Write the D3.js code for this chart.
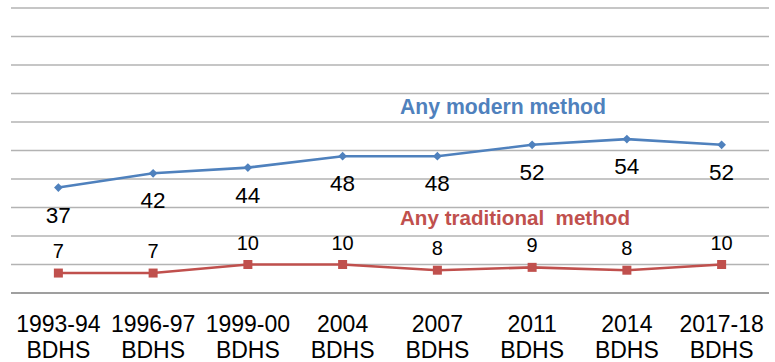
<!DOCTYPE html>
<html>
<head>
<meta charset="utf-8">
<script src="https://cdn.jsdelivr.net/npm/d3@7"></script>
<style>
  html, body { margin: 0; padding: 0; background: #fff; }
  svg { display: block; font-family: "Liberation Sans", Arial, sans-serif; }
</style>
</head>
<body>
<svg id="chart" width="775" height="362"></svg>
<script>
// Survey rounds (two-line axis labels)
const surveys = ["1993-94", "1996-97", "1999-00", "2004", "2007", "2011", "2014", "2017-18"];
const surveySuffix = "BDHS";
// Contraceptive use, percent
const modernValues = [37, 42, 44, 48, 48, 52, 54, 52];
const traditionalValues = [7, 7, 10, 10, 8, 9, 8, 10];
const seriesNames = ["Any modern method", "Any traditional method"];
const gridTicks = [0, 10, 20, 30, 40, 50, 60, 70, 80, 90, 100];

(function draw() {
  const svg = d3.select("#chart");
  const plotLeft = 11, plotRight = 769, plotTop = 8, plotBottom = 293;

  const x = d3.scaleBand().domain(surveys).range([plotLeft, plotRight]);
  const y = d3.scaleLinear().domain([0, 100]).range([plotBottom, plotTop]);
  const cx = d => x(d) + x.bandwidth() / 2;

  // horizontal gridlines
  svg.append("g")
    .selectAll("line")
    .data(gridTicks.filter(t => t > 0))
    .join("line")
    .attr("x1", plotLeft).attr("x2", plotRight)
    .attr("y1", d => y(d)).attr("y2", d => y(d))
    .attr("stroke", "#b3b3b3").attr("stroke-width", 1.3);

  // category axis line
  svg.append("line")
    .attr("x1", plotLeft).attr("x2", plotRight)
    .attr("y1", y(0)).attr("y2", y(0))
    .attr("stroke", "#7f7f7f").attr("stroke-width", 1.3);

  // category labels
  const xl = svg.append("g").attr("font-size", 23).attr("fill", "#000").attr("text-anchor", "middle");
  surveys.forEach(s => {
    const t = xl.append("text").attr("x", cx(s)).attr("y", 332);
    t.append("tspan").attr("x", cx(s)).text(s);
    t.append("tspan").attr("x", cx(s)).attr("dy", 26).text(surveySuffix);
  });

  const line = d3.line().x((d, i) => cx(surveys[i])).y(d => y(d));

  // modern method series
  svg.append("path").datum(modernValues)
    .attr("d", line).attr("fill", "none")
    .attr("stroke", "#4F81BD").attr("stroke-width", 2.6);
  svg.append("g").selectAll("path").data(modernValues).join("path")
    .attr("transform", (d, i) => `translate(${cx(surveys[i])},${y(d)})`)
    .attr("d", d3.symbol().type(d3.symbolDiamond2).size(48))
    .attr("fill", "#4F81BD");
  svg.append("g").selectAll("text").data(modernValues).join("text")
    .attr("x", (d, i) => cx(surveys[i])).attr("y", d => y(d) + 35)
    .attr("text-anchor", "middle").attr("font-size", 22.5).attr("fill", "#000")
    .text(d => d);

  // traditional method series
  svg.append("path").datum(traditionalValues)
    .attr("d", line).attr("fill", "none")
    .attr("stroke", "#C0504D").attr("stroke-width", 2.6);
  svg.append("g").selectAll("rect").data(traditionalValues).join("rect")
    .attr("x", (d, i) => cx(surveys[i]) - 4.5).attr("y", d => y(d) - 4.5)
    .attr("width", 9).attr("height", 9)
    .attr("fill", "#C0504D");
  svg.append("g").selectAll("text").data(traditionalValues).join("text")
    .attr("x", (d, i) => cx(surveys[i])).attr("y", d => y(d) - 15)
    .attr("text-anchor", "middle").attr("font-size", 20).attr("fill", "#000")
    .text(d => d);

  // series names
  svg.append("text").attr("x", 400).attr("y", 114)
    .attr("font-size", 21.2).attr("font-weight", "bold").attr("fill", "#4F81BD")
    .text(seriesNames[0]);
  svg.append("text").attr("x", 400).attr("y", 225)
    .attr("font-size", 20.6).attr("font-weight", "bold").attr("fill", "#C0504D")
    .style("white-space", "pre")
    .text(seriesNames[1].replace("traditional ", "traditional  "));
})();
</script>
</body>
</html>
